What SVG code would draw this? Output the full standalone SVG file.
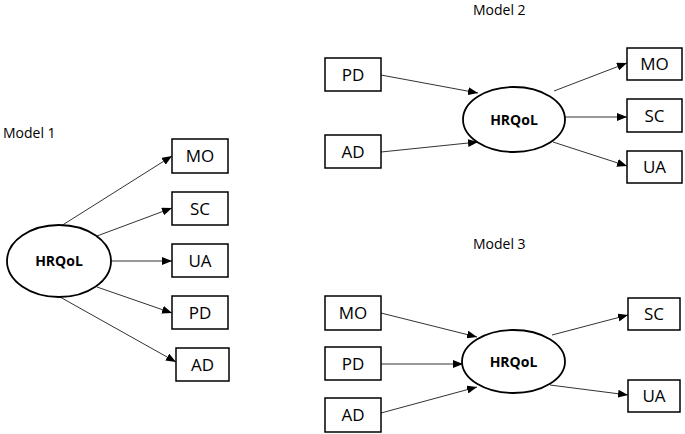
<svg xmlns="http://www.w3.org/2000/svg" width="685" height="434" viewBox="0 0 685 434">
<style>
.box{fill:#fff;stroke:#000;stroke-width:1.5}
.ell{fill:#fff;stroke:#000;stroke-width:1.8}
.lbl{font-family:"Open Sans","Liberation Sans",sans-serif;font-size:17px;fill:#000;text-anchor:middle}
.hq{font-family:"Open Sans","Liberation Sans",sans-serif;font-size:14px;font-weight:bold;fill:#000;text-anchor:middle}
.ttl{font-family:"Open Sans","Liberation Sans",sans-serif;font-size:14px;fill:#000}
.con line{stroke:#333;stroke-width:1;marker-end:url(#ah)}
</style>
<defs>
<marker id="ah" markerWidth="10" markerHeight="8" refX="10" refY="4" orient="auto" markerUnits="userSpaceOnUse">
<path d="M0,0 L10,4 L0,8 Z" fill="#000"/>
</marker>
</defs>
<rect width="685" height="434" fill="#fff"/>
<text class="ttl" x="3" y="138">Model 1</text>
<text class="ttl" x="473" y="15">Model 2</text>
<text class="ttl" x="473" y="249">Model 3</text>
<g class="con" id="connectors">
<line x1="61" y1="226" x2="172" y2="156"/>
<line x1="97" y1="236" x2="172" y2="208"/>
<line x1="111" y1="261" x2="172" y2="261"/>
<line x1="97" y1="287" x2="172" y2="313"/>
<line x1="60" y1="297" x2="176" y2="362"/>
<line x1="381" y1="75" x2="478" y2="93"/>
<line x1="381" y1="152" x2="478" y2="142"/>
<line x1="554" y1="91" x2="627" y2="63"/>
<line x1="565" y1="117" x2="627" y2="117"/>
<line x1="553" y1="142" x2="627" y2="166"/>
<line x1="381" y1="313" x2="477" y2="337"/>
<line x1="381" y1="364" x2="463" y2="364"/>
<line x1="381" y1="413" x2="477" y2="387"/>
<line x1="552" y1="335" x2="628" y2="315"/>
<line x1="550" y1="385" x2="628" y2="395"/>
</g>
<g id="m1-hrqol"><ellipse class="ell" cx="59" cy="261" rx="52" ry="36"/><text class="hq" x="59" y="266">HRQoL</text></g>
<g id="m1-mo"><rect class="box" x="172" y="139" width="56" height="34"/><text class="lbl" x="200" y="162">MO</text></g>
<g id="m1-sc"><rect class="box" x="172" y="192" width="56" height="33"/><text class="lbl" x="200" y="214.5">SC</text></g>
<g id="m1-ua"><rect class="box" x="172" y="244" width="56" height="33"/><text class="lbl" x="200" y="266.5">UA</text></g>
<g id="m1-pd"><rect class="box" x="172" y="296" width="56" height="33"/><text class="lbl" x="200" y="318.5">PD</text></g>
<g id="m1-ad"><rect class="box" x="176" y="348" width="53" height="33"/><text class="lbl" x="202.5" y="370.5">AD</text></g>

<g id="m2-hrqol"><ellipse class="ell" cx="514" cy="119.5" rx="51" ry="32.5"/><text class="hq" x="514" y="124.5">HRQoL</text></g>
<g id="m2-pd"><rect class="box" x="325" y="58" width="56" height="33"/><text class="lbl" x="353" y="80.5">PD</text></g>
<g id="m2-ad"><rect class="box" x="325" y="135" width="56" height="33"/><text class="lbl" x="353" y="157.5">AD</text></g>
<g id="m2-mo"><rect class="box" x="627" y="48" width="55" height="32"/><text class="lbl" x="654.5" y="70">MO</text></g>
<g id="m2-sc"><rect class="box" x="627" y="99" width="55" height="33"/><text class="lbl" x="654.5" y="121.5">SC</text></g>
<g id="m2-ua"><rect class="box" x="627" y="151" width="55" height="32"/><text class="lbl" x="654.5" y="173">UA</text></g>

<g id="m3-hrqol"><ellipse class="ell" cx="513.5" cy="361.5" rx="51.5" ry="31.5"/><text class="hq" x="513.5" y="366.5">HRQoL</text></g>
<g id="m3-mo"><rect class="box" x="325" y="296" width="56" height="34"/><text class="lbl" x="353" y="319">MO</text></g>
<g id="m3-pd"><rect class="box" x="325" y="347" width="56" height="33"/><text class="lbl" x="353" y="369.5">PD</text></g>
<g id="m3-ad"><rect class="box" x="325" y="398" width="56" height="34"/><text class="lbl" x="353" y="421">AD</text></g>
<g id="m3-sc"><rect class="box" x="628" y="298" width="52" height="32"/><text class="lbl" x="654" y="320">SC</text></g>
<g id="m3-ua"><rect class="box" x="628" y="380" width="52" height="32"/><text class="lbl" x="654" y="402">UA</text></g>
</svg>
